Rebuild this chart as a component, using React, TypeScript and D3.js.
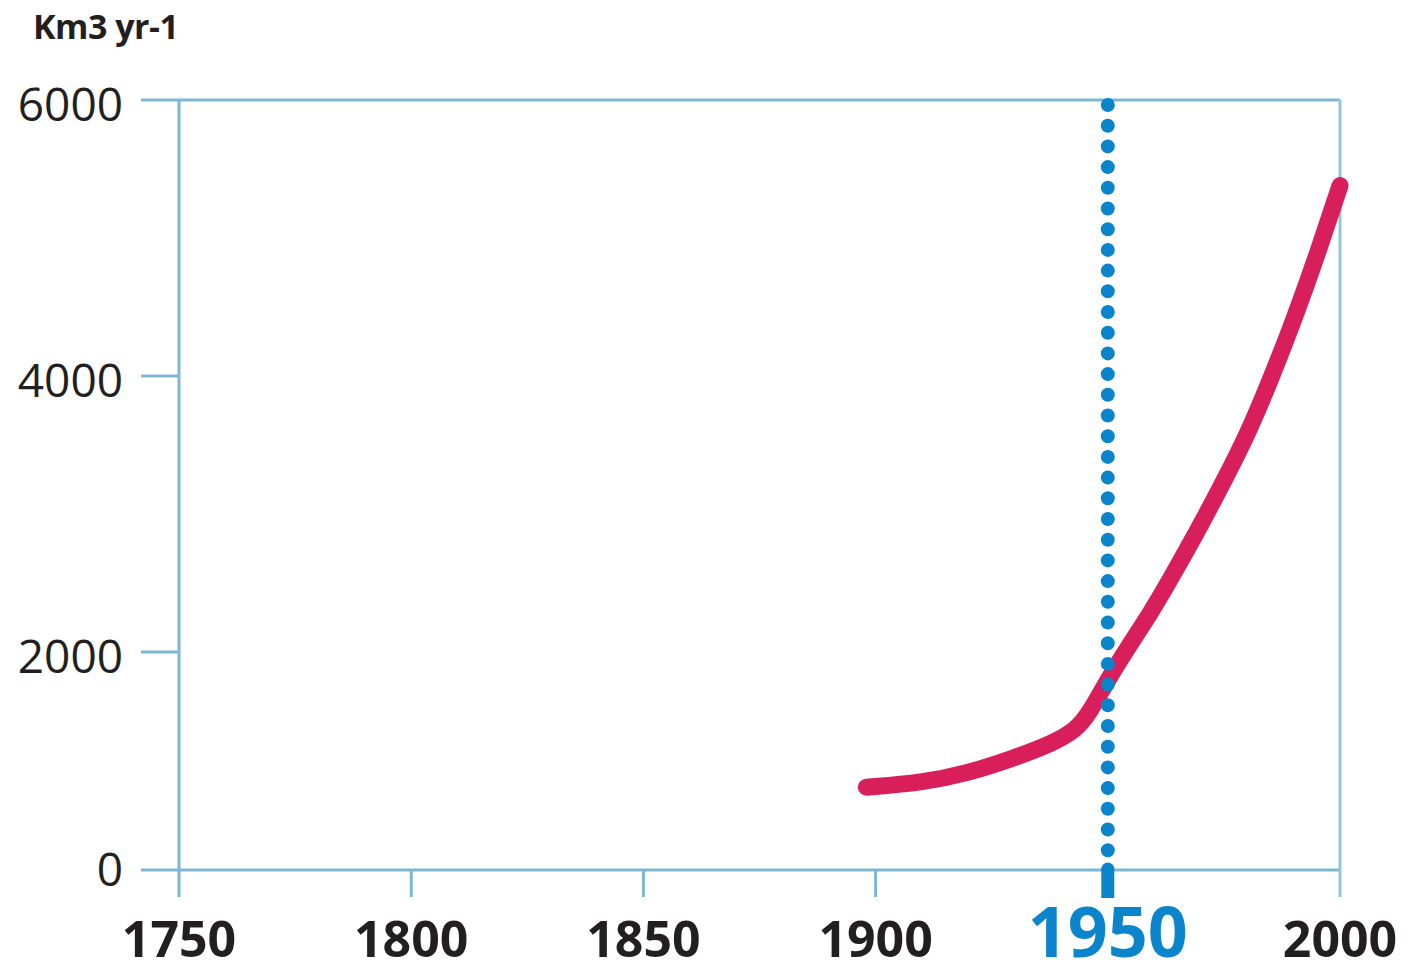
import React, { useRef, useEffect } from 'react';
import * as d3 from 'd3';

// water withdrawal, km3 per year
const years = [1898, 1910, 1920, 1930, 1938, 1943, 1946, 1951, 1960, 1965, 1970, 1975, 1980, 1985, 1990, 1995, 2000];
const values = [760, 800, 890, 1030, 1160, 1280, 1430, 1830, 2320, 2620, 2920, 3240, 3570, 3970, 4400, 4870, 5380];

const xTicks = [1750, 1800, 1850, 1900, 1950, 2000];
const yTicks = [0, 2000, 4000, 6000];
const markYear = 1950;
const unitLabel = 'Km3 yr-1';

const App = () => {
    const svgRef = useRef<SVGSVGElement>(null);

    useEffect(() => {
        const svg = d3.select(svgRef.current);
        svg.selectAll('*').remove();

        const font = '"Open Sans", "Noto Sans", sans-serif';
        const axisColor = '#7db8d3';
        const blue = '#0a85cc';
        const ink = '#231f20';

        const x = d3.scaleLinear().domain([1750, 2000]).range([179, 1340]);
        // the original's y axis is not evenly spaced below 2000
        const y = d3.scaleLinear().domain([0, 2000, 4000, 6000]).range([870, 652, 376, 100]);

        const left = x(1750), right = x(2000), top = y(6000), base = y(0);
        const tickOut = 27;

        const frame = svg.append('g').attr('stroke', axisColor).attr('stroke-width', 3).attr('fill', 'none');

        // horizontal ticks/lines
        frame.selectAll('.h')
            .data(yTicks)
            .join('line')
            .attr('x1', left - 38)
            .attr('x2', d => (d === 0 || d === 6000 ? right : left))
            .attr('y1', d => y(d))
            .attr('y2', d => y(d));

        // left and right frame
        frame.append('line').attr('x1', left).attr('x2', left).attr('y1', top).attr('y2', base + tickOut);
        frame.append('line').attr('x1', right).attr('x2', right).attr('y1', top).attr('y2', base + tickOut)
            .attr('stroke', '#92c5dc');

        // x ticks below the base line
        frame.selectAll('.v')
            .data(xTicks.filter(d => d !== 1750 && d !== 2000 && d !== markYear))
            .join('line')
            .attr('x1', d => x(d))
            .attr('x2', d => x(d))
            .attr('y1', base)
            .attr('y2', base + tickOut);

        // y labels
        svg.selectAll('.ylab')
            .data(yTicks)
            .join('text')
            .attr('x', 123)
            .attr('y', d => y(d) + (d === 0 ? 16 : 21))
            .attr('text-anchor', 'end')
            .attr('font-family', font)
            .attr('font-size', 46)
            .attr('fill', ink)
            .text(d => d);

        // x labels
        svg.selectAll('.xlab')
            .data(xTicks)
            .join('text')
            .attr('x', d => x(d))
            .attr('y', 957)
            .attr('text-anchor', 'middle')
            .attr('font-family', font)
            .attr('font-weight', 'bold')
            .attr('font-size', d => (d === markYear ? 70 : 50))
            .attr('fill', d => (d === markYear ? blue : ink))
            .text(d => d);

        // unit label
        svg.append('text')
            .attr('x', 33)
            .attr('y', 39)
            .attr('font-family', font)
            .attr('font-weight', 'bold')
            .attr('font-size', 34)
            .attr('letter-spacing', -0.5)
            .attr('fill', ink)
            .text(unitLabel);

        // the curve
        const data = years.map((yr, i) => ({ year: yr, value: values[i] }));
        const line = d3.line<{ year: number; value: number }>()
            .x(d => x(d.year))
            .y(d => y(d.value))
            .curve(d3.curveBasis);

        svg.append('path')
            .datum(data)
            .attr('fill', 'none')
            .attr('stroke', '#d81e5b')
            .attr('stroke-width', 17)
            .attr('stroke-linecap', 'round')
            .attr('stroke-linejoin', 'round')
            .attr('d', line);

        // dotted marker at 1950
        const mx = x(markYear);
        svg.append('line')
            .attr('x1', mx).attr('x2', mx)
            .attr('y1', top + 5).attr('y2', base - 18)
            .attr('stroke', blue)
            .attr('stroke-width', 14)
            .attr('stroke-linecap', 'round')
            .attr('stroke-dasharray', '0 20.7');

        svg.append('line')
            .attr('x1', mx).attr('x2', mx)
            .attr('y1', base - 1).attr('y2', base + tickOut + 1)
            .attr('stroke', blue)
            .attr('stroke-width', 13);
        svg.append('circle').attr('cx', mx).attr('cy', base - 1).attr('r', 6.5).attr('fill', blue);
    }, []);

    return (
        <svg ref={svgRef} width={1421} height={964}
            style={{ position: 'absolute', left: 0, top: 0, background: '#fff' }}></svg>
    );
};

export default App;
